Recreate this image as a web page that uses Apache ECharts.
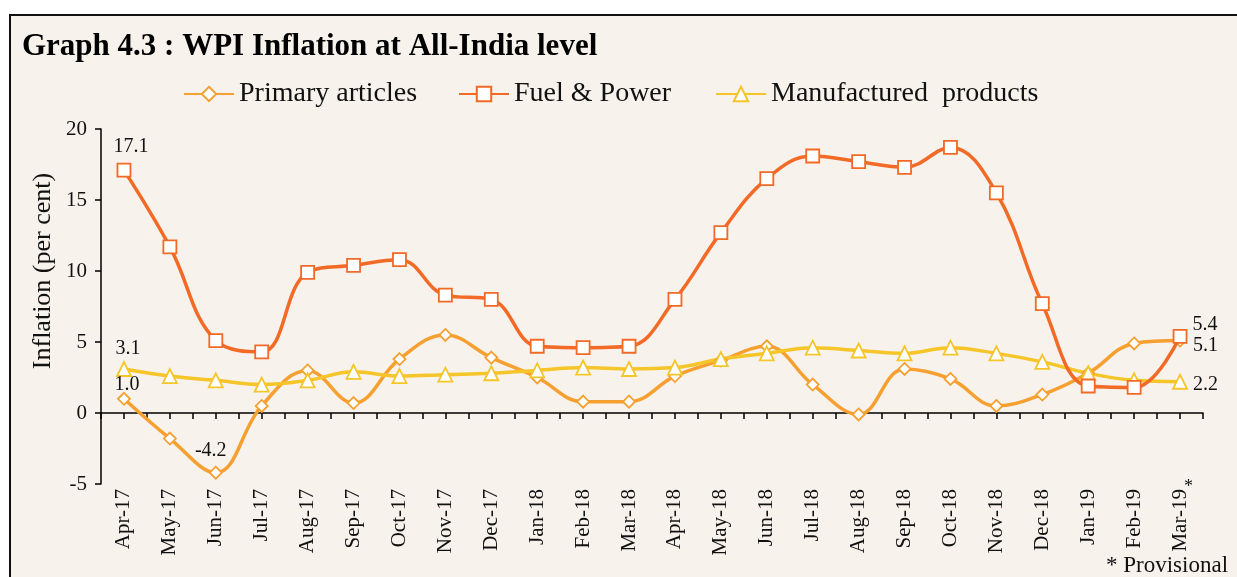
<!DOCTYPE html>
<html>
<head>
<meta charset="utf-8">
<script src="https://cdn.jsdelivr.net/npm/echarts@6/dist/echarts.min.js"></script>
<style>
  html, body { margin: 0; padding: 0; background: #fff; }
  #main { width: 1237px; height: 577px; }
</style>
</head>
<body>
<div id="main"></div>
<script>
var months = ['Apr-17', 'May-17', 'Jun-17', 'Jul-17', 'Aug-17', 'Sep-17', 'Oct-17', 'Nov-17',
  'Dec-17', 'Jan-18', 'Feb-18', 'Mar-18', 'Apr-18', 'May-18', 'Jun-18', 'Jul-18', 'Aug-18',
  'Sep-18', 'Oct-18', 'Nov-18', 'Dec-18', 'Jan-19', 'Feb-19', 'Mar-19*']
var primary = [1.0, -1.8, -4.2, 0.5, 3.0, 0.7, 3.8, 5.5, 3.9, 2.5, 0.8, 0.8,
  2.6, 3.7, 4.7, 2.0, -0.1, 3.1, 2.4, 0.5, 1.3, 2.8, 4.9, 5.1]
var fuel = [17.1, 11.7, 5.1, 4.3, 9.9, 10.4, 10.8, 8.3, 8.0, 4.7, 4.6, 4.7,
  8.0, 12.7, 16.5, 18.1, 17.7, 17.3, 18.7, 15.5, 7.7, 1.9, 1.8, 5.4]
var manufactured = [3.1, 2.6, 2.3, 2.0, 2.3, 2.9, 2.6, 2.7, 2.8, 3.0, 3.2, 3.1,
  3.2, 3.8, 4.2, 4.6, 4.4, 4.2, 4.6, 4.2, 3.6, 2.8, 2.3, 2.2]
var yTicks = { min: -5, max: 20, interval: 5 }

var serif = 'Liberation Serif'
var bg = '#F7F2EC'
var cPrimary = '#F5A030'
var cFuel = '#F26A25'
var cManu = '#F5C52A'

// labels on a few points only
function withLabels(values, labels) {
  return values.map(function (v, i) {
    if (labels[i]) {
      return { value: v, label: Object.assign({ show: true }, labels[i]) }
    }
    return v
  })
}
var last = months.length - 1
var primaryLabels = {}
primaryLabels[0] = { position: 'top', distance: -3, offset: [3, 0] }
primaryLabels[2] = { position: 'top', distance: 5, offset: [-5, 0] }
primaryLabels[last] = { position: 'right', distance: 6, offset: [0, 5] }
var fuelLabels = {}
fuelLabels[0] = { position: 'top', distance: 6, offset: [7, 0] }
fuelLabels[last] = { position: 'right', distance: 5, offset: [0, -12] }
var manuLabels = {}
manuLabels[0] = { position: 'top', distance: 2, offset: [4, 0] }
manuLabels[last] = { position: 'right', distance: 5, offset: [0, 3] }

var labelText = {
  color: '#111',
  fontFamily: serif,
  fontSize: 20,
  formatter: function (p) { return Number(p.value).toFixed(1) }
}

function legendAt(left, name) {
  return {
    left: left,
    top: 75,
    itemWidth: 50,
    itemHeight: 18,
    textStyle: { fontFamily: serif, fontSize: 28, color: '#111' },
    data: [name]
  }
}

var chart = echarts.init(document.getElementById('main'))
var option = {
  backgroundColor: '#fff',
  animation: false,
  graphic: [
    {
      type: 'rect',
      z: -10,
      shape: { x: 10, y: 15, width: 1240, height: 580 },
      style: { fill: bg, stroke: '#111', lineWidth: 2 }
    },
    {
      type: 'text',
      left: 22,
      top: 31,
      style: {
        text: 'Graph 4.3 : WPI Inflation at All-India level',
        fontFamily: serif,
        fontWeight: 'bold',
        fontSize: 31,
        fill: '#000'
      }
    },
    {
      type: 'text',
      x: 43,
      y: 271,
      rotation: Math.PI / 2,
      style: {
        text: 'Inflation (per cent)',
        fontFamily: serif,
        fontSize: 26,
        fill: '#111',
        align: 'center',
        verticalAlign: 'middle'
      }
    },
    {
      // asterisk of the last month label, set as a superscript
      type: 'text',
      x: 1184,
      y: 478,
      style: { text: '*', fontFamily: serif, fontSize: 18, fill: '#111' }
    },
    {
      type: 'text',
      left: 1106,
      top: 554,
      style: { text: '* Provisional', fontFamily: serif, fontSize: 23, fill: '#111' }
    }
  ],
  legend: [
    legendAt(178, 'Primary articles'),
    legendAt(453, 'Fuel & Power'),
    legendAt(710, 'Manufactured  products')
  ],
  grid: { left: 101, right: 34, top: 129, bottom: 93 },
  xAxis: [
    {
      type: 'category',
      position: 'bottom',
      data: months,
      boundaryGap: true,
      axisLine: { show: false, onZero: false },
      axisTick: { show: false },
      axisLabel: {
        rotate: 90,
        margin: 5,
        interval: 0,
        fontFamily: serif,
        fontSize: 21,
        color: '#111',
        formatter: function (v) { return v.replace('*', '') }
      }
    },
    {
      // zero line with half-month ticks
      type: 'category',
      position: 'bottom',
      data: months.concat(months).map(function () { return '' }),
      boundaryGap: true,
      axisLine: { onZero: true, lineStyle: { color: '#000', width: 1.5 } },
      axisTick: { show: true, interval: 0, length: 6, lineStyle: { color: '#000', width: 1.5 } },
      axisLabel: { show: false }
    }
  ],
  yAxis: {
    type: 'value',
    min: yTicks.min,
    max: yTicks.max,
    interval: yTicks.interval,
    axisLine: { show: true, onZero: false, lineStyle: { color: '#000', width: 1.5 } },
    axisTick: { show: true, length: 6, lineStyle: { color: '#000', width: 1.5 } },
    axisLabel: { margin: 14, fontFamily: serif, fontSize: 21, color: '#111' },
    splitLine: { show: false }
  },
  series: [
    {
      name: 'Primary articles',
      type: 'line',
      xAxisIndex: 0,
      smooth: 0.4,
      symbol: 'diamond',
      symbolSize: 12,
      color: cPrimary,
      lineStyle: { color: cPrimary, width: 3.5 },
      itemStyle: { color: '#fff', borderColor: cPrimary, borderWidth: 1.8 },
      label: labelText,
      z: 3,
      data: withLabels(primary, primaryLabels)
    },
    {
      name: 'Fuel & Power',
      type: 'line',
      xAxisIndex: 0,
      smooth: 0.4,
      symbol: 'rect',
      symbolSize: 13,
      color: cFuel,
      lineStyle: { color: cFuel, width: 3.5 },
      itemStyle: { color: '#fff', borderColor: cFuel, borderWidth: 1.8 },
      label: labelText,
      z: 4,
      data: withLabels(fuel, fuelLabels)
    },
    {
      name: 'Manufactured  products',
      type: 'line',
      xAxisIndex: 0,
      smooth: 0.4,
      symbol: 'triangle',
      symbolSize: 14,
      color: cManu,
      lineStyle: { color: cManu, width: 3.5 },
      itemStyle: { color: '#fff', borderColor: cManu, borderWidth: 1.8 },
      label: labelText,
      z: 3,
      data: withLabels(manufactured, manuLabels)
    }
  ]
}
chart.setOption(option)
</script>
</body>
</html>
